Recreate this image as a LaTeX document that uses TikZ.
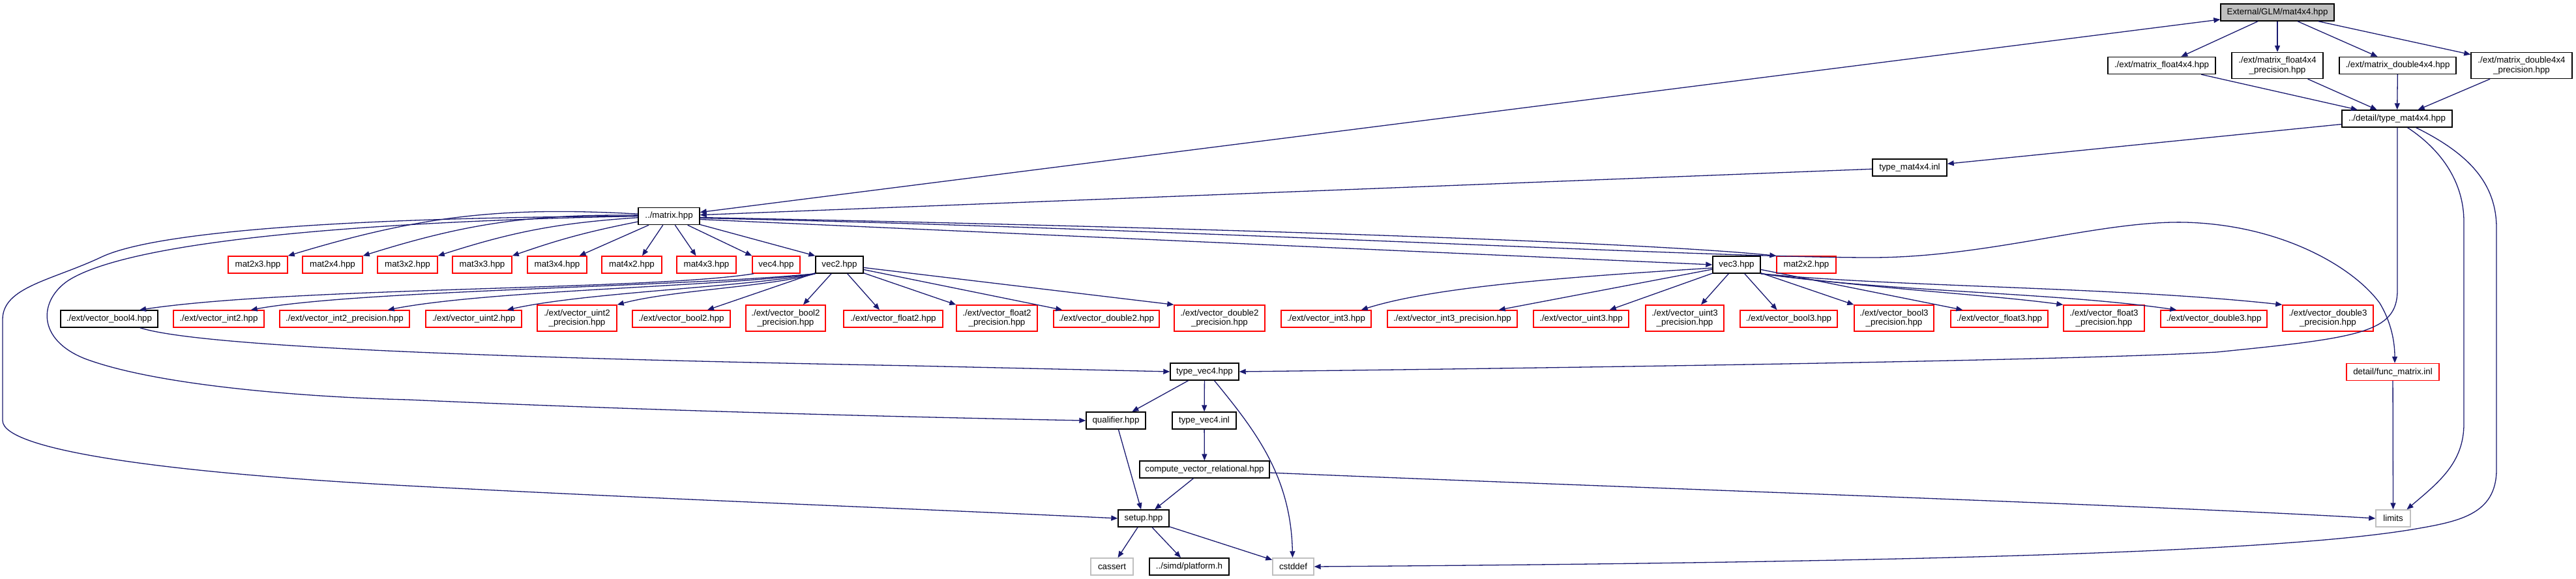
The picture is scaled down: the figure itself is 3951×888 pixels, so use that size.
\documentclass[tikz,border=0pt]{standalone}
\usepackage{fontspec}
\setmainfont{Liberation Sans}
\usetikzlibrary{arrows.meta}
\definecolor{mblue}{HTML}{191970}
\definecolor{gborder}{HTML}{BFBFBF}
\begin{document}
\begin{tikzpicture}[x=1pt,y=-1pt,
  box/.style={rectangle, draw, line width=1.4pt, inner sep=0pt, minimum height=26pt, align=center, font=\fontsize{13.33pt}{14.5pt}\selectfont},
  nb/.style={box, draw=black},
  nr/.style={box, draw=red},
  ng/.style={box, draw=gborder},
  two/.style={minimum height=40pt},
  e/.style={draw=mblue, line width=1.3pt, -{Triangle[length=10pt,width=8pt]}},
  eb/.style={draw=mblue, line width=1.3pt, {Triangle[length=10pt,width=8pt]}-{Triangle[length=10pt,width=8pt]}},
]
\useasboundingbox (0,0) rectangle (3951,888);
\fill[white] (0,0) rectangle (3951,888);

% nodes
\node[nb,fill=gborder,minimum width=174pt] (root) at (3493,19) {External/GLM/mat4x4.hpp};
\node[nb,minimum width=165pt] (mf44) at (3315.5,100.5) {./ext/matrix\_float4x4.hpp};
\node[nb,two,minimum width=140pt] (mf44p) at (3493,100.5) {./ext/matrix\_float4x4\\\_precision.hpp};
\node[nb,minimum width=179pt] (md44) at (3677.5,100.5) {./ext/matrix\_double4x4.hpp};
\node[nb,two,minimum width=155pt] (md44p) at (3867.5,100.5) {./ext/matrix\_double4x4\\\_precision.hpp};
\node[nb,minimum width=169pt] (tm44) at (3676.5,182) {../detail/type\_mat4x4.hpp};
\node[nb,minimum width=114pt] (tm44inl) at (2929,257) {type\_mat4x4.inl};
\node[nb,minimum width=94pt] (matrix) at (1026,331.5) {../matrix.hpp};

\node[nr,minimum width=91pt] (mat2x3) at (395.5,406) {mat2x3.hpp};
\node[nr,minimum width=92pt] (mat2x4) at (510,406) {mat2x4.hpp};
\node[nr,minimum width=92pt] (mat3x2) at (625,406) {mat3x2.hpp};
\node[nr,minimum width=91pt] (mat3x3) at (739.5,406) {mat3x3.hpp};
\node[nr,minimum width=91pt] (mat3x4) at (854.5,406) {mat3x4.hpp};
\node[nr,minimum width=92pt] (mat4x2) at (969,406) {mat4x2.hpp};
\node[nr,minimum width=91pt] (mat4x3) at (1083.5,406) {mat4x3.hpp};
\node[nr,minimum width=73pt] (vec4) at (1190.5,406) {vec4.hpp};
\node[nb,minimum width=73pt] (vec2) at (1287.5,406) {vec2.hpp};
\node[nb,minimum width=73pt] (vec3) at (2663.5,406) {vec3.hpp};
\node[nr,minimum width=91pt] (mat2x2) at (2770.5,406) {mat2x2.hpp};

\node[nb,minimum width=149pt] (vbool4) at (167.5,489) {./ext/vector\_bool4.hpp};
\node[nr,minimum width=139pt] (vint2) at (335.5,489) {./ext/vector\_int2.hpp};
\node[nr,minimum width=199pt] (vint2p) at (528.5,489) {./ext/vector\_int2\_precision.hpp};
\node[nr,minimum width=147pt] (vuint2) at (726.5,489) {./ext/vector\_uint2.hpp};
\node[nr,two,minimum width=122pt] (vuint2p) at (885,488) {./ext/vector\_uint2\\\_precision.hpp};
\node[nr,minimum width=150pt] (vbool2) at (1045,489) {./ext/vector\_bool2.hpp};
\node[nr,two,minimum width=122pt] (vbool2p) at (1205,488) {./ext/vector\_bool2\\\_precision.hpp};
\node[nr,minimum width=152pt] (vfloat2) at (1370,489) {./ext/vector\_float2.hpp};
\node[nr,two,minimum width=124pt] (vfloat2p) at (1529,488) {./ext/vector\_float2\\\_precision.hpp};
\node[nr,minimum width=162pt] (vdouble2) at (1697,489) {./ext/vector\_double2.hpp};
\node[nr,two,minimum width=139pt] (vdouble2p) at (1870.5,488) {./ext/vector\_double2\\\_precision.hpp};
\node[nr,minimum width=138pt] (vint3) at (2034,489) {./ext/vector\_int3.hpp};
\node[nr,minimum width=199pt] (vint3p) at (2227.5,489) {./ext/vector\_int3\_precision.hpp};
\node[nr,minimum width=146pt] (vuint3) at (2425,489) {./ext/vector\_uint3.hpp};
\node[nr,two,minimum width=120pt] (vuint3p) at (2584,488) {./ext/vector\_uint3\\\_precision.hpp};
\node[nr,minimum width=149pt] (vbool3) at (2743.5,489) {./ext/vector\_bool3.hpp};
\node[nr,two,minimum width=122pt] (vbool3p) at (2905,488) {./ext/vector\_bool3\\\_precision.hpp};
\node[nr,minimum width=149pt] (vfloat3) at (3066.5,489) {./ext/vector\_float3.hpp};
\node[nr,two,minimum width=124pt] (vfloat3p) at (3227,488) {./ext/vector\_float3\\\_precision.hpp};
\node[nr,minimum width=163pt] (vdouble3) at (3395.5,489) {./ext/vector\_double3.hpp};
\node[nr,two,minimum width=139pt] (vdouble3p) at (3570.5,488) {./ext/vector\_double3\\\_precision.hpp};

\node[nr,minimum width=142pt] (funcmat) at (3670,570.5) {detail/func\_matrix.inl};
\node[nb,minimum width=105pt] (tvec4) at (1847.5,570) {type\_vec4.hpp};
\node[nb,minimum width=91pt] (qual) at (1711.5,645) {qualifier.hpp};
\node[nb,minimum width=98pt] (tvec4inl) at (1847,645) {type\_vec4.inl};
\node[nb,minimum width=199pt] (cvr) at (1847.5,720) {compute\_vector\_relational.hpp};
\node[nb,minimum width=78pt] (setup) at (1754,795) {setup.hpp};
\node[ng,minimum width=53pt] (limits) at (3670.5,795) {limits};
\node[ng,minimum width=65pt] (cassert) at (1705.5,869) {cassert};
\node[nb,minimum width=122pt] (platform) at (1824,869) {../simd/platform.h};
\node[ng,minimum width=63pt] (cstddef) at (1983.5,869) {cstddef};

% edges: top part
\draw[e] (root) -- (mf44);
\draw[e] (root) -- (mf44p);
\draw[e] (root) -- (md44);
\draw[e] (root) -- (md44p);
\draw[e] (mf44) -- (tm44);
\draw[e] (mf44p) -- (tm44);
\draw[e] (md44) -- (tm44);
\draw[e] (md44p) -- (tm44);
\draw[e] (tm44) -- (tm44inl);
\draw[e] (tm44inl) -- (matrix);
\draw[eb] (matrix) -- (root);

% matrix children
\draw[e] (matrix) to[bend right=10] (mat2x3.north east);
\draw[e] (matrix) to[bend right=9] (mat2x4.north east);
\draw[e] (matrix) to[bend right=7] (mat3x2.north east);
\draw[e] (matrix) to[bend right=4] (mat3x3.north east);
\draw[e] (matrix) -- ([xshift=34pt]mat3x4.north);
\draw[e] (matrix) -- ([xshift=16pt]mat4x2.north);
\draw[e] (matrix) -- ([xshift=-16pt]mat4x3.north);
\draw[e] (matrix) -- (vec4.north west);
\draw[e] (matrix) -- (vec2.north west);
\draw[e] ([yshift=-5pt]matrix.east) -- (vec3.west);
\draw[e] ([yshift=-2pt]matrix.east) .. controls (1800,348) and (2500,370) .. (mat2x2.north west);
\draw[e] ([yshift=-3pt]matrix.east) .. controls (1800,350) and (2600,395) .. (2870,395)
  .. controls (3050,395) and (3220,338) .. (3352,341)
  .. controls (3500,345) and (3610,410) .. (3650,465)
  .. controls (3668,495) and (3673,525) .. ([xshift=3pt]funcmat.north);
\draw[e] (matrix.west) .. controls (600,333) and (250,350) .. (156,394)
  .. controls (80,430) and (4,440) .. (4,490) -- (4,645)
  .. controls (4,690) and (250,725) .. (625,745)
  .. controls (1000,765) and (1400,780) .. (setup.west);
\draw[e] (matrix.west) .. controls (550,340) and (200,370) .. (105,430)
  .. controls (60,460) and (55,520) .. (130,550)
  .. controls (250,595) and (500,610) .. (625,613)
  .. controls (1000,630) and (1400,640) .. (qual.west);

% vec4 / vec2 children
\draw[e] ([xshift=3pt]vec4.south west) .. controls (1000,445) and (450,440) .. ([xshift=46.5pt]vbool4.north);
\draw[e] (vec2.south west) .. controls (1050,440) and (550,445) .. ([xshift=-21pt]vint2.north east);
\draw[e] (vec2.south west) .. controls (1100,440) and (750,445) .. ([xshift=-34pt]vint2p.north east);
\draw[e] (vec2.south west) .. controls (1150,440) and (900,448) .. ([xshift=-23pt]vuint2.north east);
\draw[e] (vec2.south west) .. controls (1180,440) and (1030,445) .. (vuint2p.north east);
\draw[e] (vec2) -- ([xshift=40pt]vbool2.north);
\draw[e] (vec2) -- ([xshift=27pt]vbool2p.north);
\draw[e] (vec2) -- ([xshift=-21pt]vfloat2.north);
\draw[e] (vec2) -- (vfloat2p.north west);
\draw[e] (vec2) -- ([xshift=14pt]vdouble2.north west);
\draw[e] (vec2) -- (vdouble2p.north west);

% vec3 children
\draw[e] ([yshift=-5pt]vec3.west) .. controls (2400,425) and (2200,440) .. ([xshift=-16pt]vint3.north east);
\draw[e] (vec3) -- ([xshift=-29pt]vint3p.north east);
\draw[e] (vec3) -- ([xshift=-30pt]vuint3.north east);
\draw[e] (vec3) -- ([xshift=25pt]vuint3p.north);
\draw[e] (vec3) -- ([xshift=-18pt]vbool3.north);
\draw[e] (vec3) -- (vbool3p.north west);
\draw[e] (vec3) -- ([xshift=19pt]vfloat3.north west);
\draw[e] (vec3.south east) .. controls (2900,445) and (3050,452) .. (vfloat3p.north west);
\draw[e] (vec3.south east) .. controls (2900,448) and (3150,448) .. ([xshift=25pt]vdouble3.north west);
\draw[e] (vec3.south east) .. controls (2900,440) and (3250,440) .. (vdouble3p.north west);

% lower part
\draw[e] ([xshift=-28pt]vbool4.south east) .. controls (300,530) and (700,548) .. (1400,561) -- (tvec4.west);
\draw[e] ([xshift=0.5pt]tm44.south) -- (3677,445) .. controls (3677,510) and (3620,518) .. (3400,540)
  .. controls (3200,552) and (2500,563) .. (tvec4.east);
\draw[e] ([xshift=16pt]tm44.south) .. controls (3745,230) and (3779,280) .. (3779,340) -- (3779,650)
  .. controls (3779,710) and (3740,740) .. ([xshift=21pt]limits.north);
\draw[e] ([xshift=29pt]tm44.south) .. controls (3785,235) and (3829,280) .. (3829,350) -- (3829,720)
  .. controls (3829,790) and (3770,800) .. (3700,812)
  .. controls (3500,845) and (3000,862) .. (cstddef.east);
\draw[e] (funcmat) -- (limits);
\draw[e] (tvec4) -- (qual);
\draw[e] (tvec4) -- (tvec4inl);
\draw[e] ([xshift=15pt]tvec4.south) .. controls (1925,660) and (1980,730) .. ([xshift=-1pt]cstddef.north);
\draw[e] (tvec4inl) -- (cvr);
\draw[e] (qual) -- (setup);
\draw[e] (cvr) -- (setup);
\draw[e] ([yshift=-5pt]cvr.east) .. controls (2500,748) and (3300,775) .. (limits.west);
\draw[e] (setup) -- (cassert);
\draw[e] (setup) -- (platform);
\draw[e] (setup) -- (cstddef);
\end{tikzpicture}
\end{document}
